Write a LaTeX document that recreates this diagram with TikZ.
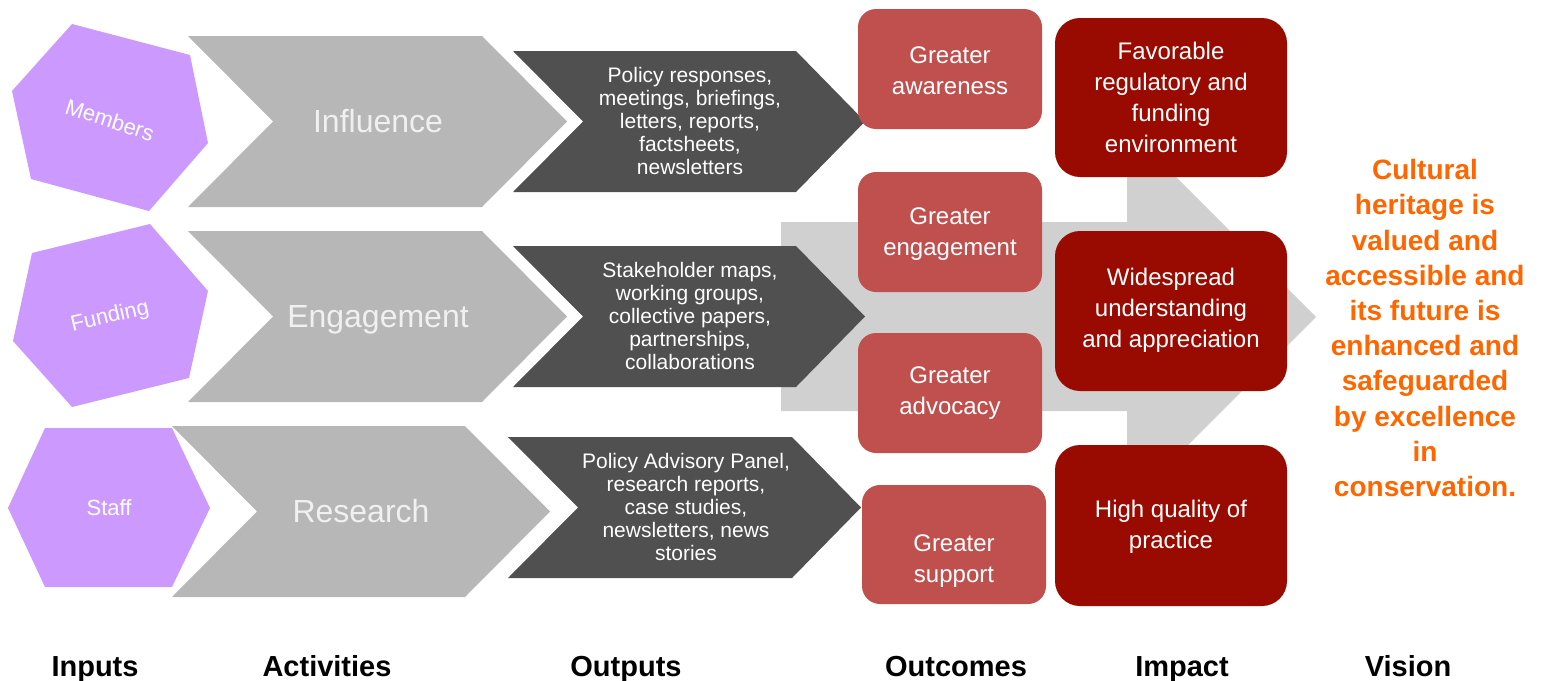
\documentclass[tikz,border=0pt]{standalone}
\usepackage{fontspec}
\setmainfont{Liberation Sans}
\usepackage{xcolor}
\usepackage{tikz}

\definecolor{inputviolet}{HTML}{CC99FF}
\definecolor{activitygray}{HTML}{B7B7B7}
\definecolor{outputgray}{HTML}{505050}
\definecolor{arrowgray}{HTML}{D0D0D0}
\definecolor{outcomered}{HTML}{C0504D}
\definecolor{impactred}{HTML}{990A00}
\definecolor{visionorange}{HTML}{FF6600}

\begin{document}
\begin{tikzpicture}[
  x=1pt, y=-1pt,
  input/.style={fill=inputviolet},
  inputtext/.style={text=white, font=\fontsize{22}{26}\selectfont},
  activity/.style={fill=activitygray},
  activitytext/.style={anchor=base, text=white!94!black, font=\fontsize{32}{38}\selectfont},
  output/.style={fill=outputgray},
  outputtext/.style={text=white, align=center, font=\fontsize{21}{23}\selectfont},
  bigarrow/.style={fill=arrowgray},
  outcome/.style={fill=outcomered, rounded corners=18pt},
  impact/.style={fill=impactred, rounded corners=25pt},
  boxtext/.style={text=white, align=center, font=\fontsize{24}{31}\selectfont},
  visiontext/.style={text=visionorange, align=center, font=\bfseries\fontsize{28}{35.2}\selectfont},
  columnhead/.style={anchor=base, font=\bfseries\fontsize{29}{34}\selectfont}
]
  \def\ah{85}
  \def\oh{70}
  \useasboundingbox (0,0) rectangle (1542,680);

  \fill[bigarrow]
    (781,222) -- (1127,222) -- (1127,128) -- (1316,317)
    -- (1127,506) -- (1127,411) -- (781,411) -- cycle
  ;

  \fill[input]
    (72,24) -- (190,55) -- (208,143) -- (149,211) -- (31,179) -- (12,91) -- cycle
  ;
  \fill[input]
    (150,224) -- (208,291) -- (189,378) -- (72,407) -- (13,341) -- (32,253) -- cycle
  ;
  \fill[input]
    (45,428) -- (172,428) -- (210,508) -- (172,587) -- (45,587) -- (8,508) -- cycle
  ;
  \node[inputtext, rotate=-18] (members) at (110,120) {Members};
  \node[inputtext, rotate=13] (funding) at (110,317) {Funding};
  \node[inputtext] (staff) at (109,508) {Staff};

  \fill[activity]
    (188,36) coordinate (influence nw)
    --++ (294,0) --++ (\ah,85.5) --++ (-\ah,85.5) --++ (-294,0) --++ (\ah,-85.5) -- cycle
  ;
  \fill[activity]
    (188,231) coordinate (engagement nw)
    --++ (294,0) --++ (\ah,85.5) --++ (-\ah,85.5) --++ (-294,0) --++ (\ah,-85.5) -- cycle
  ;
  \fill[activity]
    (172,426) coordinate (research nw)
    --++ (293,0) --++ (\ah,85.5) --++ (-\ah,85.5) --++ (-293,0) --++ (\ah,-85.5) -- cycle
  ;
  \node[activitytext] (influence) at (378,132) {Influence};
  \node[activitytext] (engagement) at (378,327) {Engagement};
  \node[activitytext] (research) at (361,522) {Research};

  \fill[output]
    (513,51) --++ (283,0) --++ (69,70.5) --++ (-69,70.5) --++ (-283,0) --++ (\oh,-70.5) -- cycle
  ;
  \fill[output]
    (513,246) --++ (283,0) --++ (69,70.5) --++ (-69,70.5) --++ (-283,0) --++ (\oh,-70.5) -- cycle
  ;
  \fill[output]
    (508,437) --++ (284,0) --++ (69,70.5) --++ (-69,70.5) --++ (-284,0) --++ (\oh,-70.5) -- cycle
  ;
  \node[outputtext] (policy) at (690,121)
    {Policy responses,\\meetings, briefings,\\letters, reports,\\factsheets,\\newsletters};
  \node[outputtext] (stakeholder) at (690,316)
    {Stakeholder maps,\\working groups,\\collective papers,\\partnerships,\\collaborations};
  \node[outputtext] (panel) at (686,507)
    {Policy Advisory Panel,\\research reports,\\case studies,\\newsletters, news\\stories};

  \fill[outcome] (858,9) rectangle (1042,129);
  \fill[outcome] (858,172) rectangle (1042,292);
  \fill[outcome] (858,333) rectangle (1042,453);
  \fill[outcome] (862,485) rectangle (1046,604);
  \node[boxtext] (awareness) at (950,71) {Greater\\awareness};
  \node[boxtext] (engage) at (950,234) {Greater\\engagement};
  \node[boxtext] (advocacy) at (950,393) {Greater\\advocacy};
  \node[boxtext] (support) at (954,561) {Greater\\support};

  \fill[impact] (1055,18) rectangle (1287,177);
  \fill[impact] (1055,231) rectangle (1287,391);
  \fill[impact] (1055,445) rectangle (1287,606);
  \node[boxtext] (favorable) at (1171,97)
    {Favorable\\regulatory and\\funding\\environment};
  \node[boxtext] (widespread) at (1171,310)
    {Widespread\\understanding\\and appreciation};
  \node[boxtext] (quality) at (1171,527) {High quality of\\practice};

  \node[visiontext] (vision) at (1425,328)
    {Cultural\\heritage is\\valued and\\accessible and\\its future is\\enhanced and\\safeguarded\\by excellence\\in\\conservation.};

  \node[columnhead] (inputs head) at (95,676) {Inputs};
  \node[columnhead] (activities head) at (327,676) {Activities};
  \node[columnhead] (outputs head) at (626,676) {Outputs};
  \node[columnhead] (outcomes head) at (956,676) {Outcomes};
  \node[columnhead] (impact head) at (1182,676) {Impact};
  \node[columnhead] (vision head) at (1408,676) {Vision};
\end{tikzpicture}
\end{document}
